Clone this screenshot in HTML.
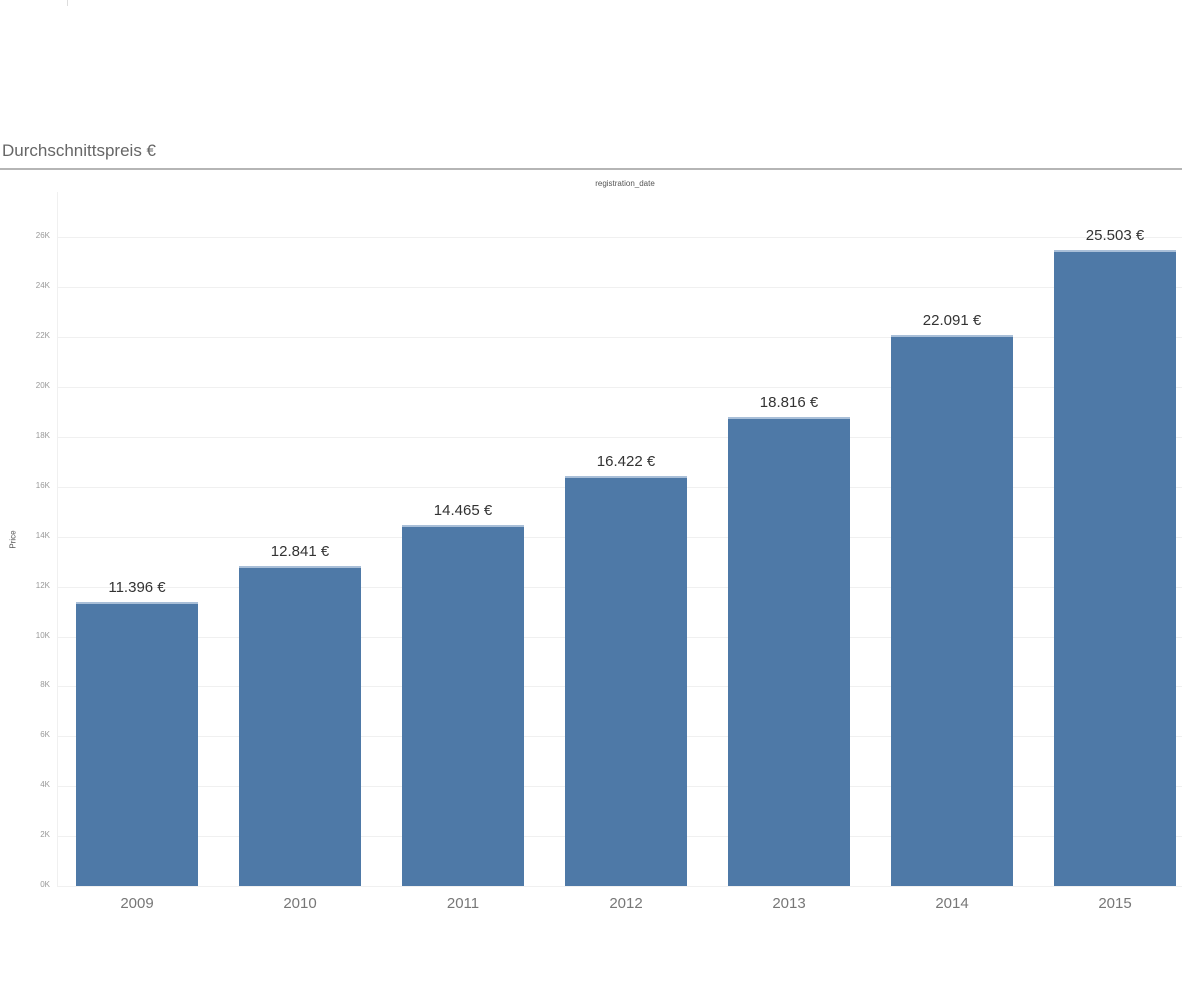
<!DOCTYPE html>
<html><head><meta charset="utf-8"><style>
body{margin:0;width:1182px;height:984px;background:#fff;font-family:"Liberation Sans",sans-serif;position:relative;overflow:hidden}
.a{position:absolute}
.g{position:absolute;left:57px;width:1125px;height:1px;background:#f0f0f0}
.t{position:absolute;left:20px;width:30px;text-align:right;font-size:8px;color:#999}
.b{position:absolute;width:122px;background:#4e79a7;border-top:2px solid #a9bfd8;box-sizing:border-box}
.v{position:absolute;width:160px;text-align:center;font-size:15px;color:#333}
.y{position:absolute;top:895px;width:120px;text-align:center;font-size:15px;color:#777}
</style></head><body>
<div class="a" style="left:67px;top:0;width:1px;height:6px;background:#ddd"></div>
<div class="a" style="left:2px;top:141px;font-size:17px;color:#666">Durchschnittspreis €</div>
<div class="a" style="left:0;top:168px;width:1182px;height:2px;background:#b5b5b5"></div>
<div class="a" style="left:525px;top:179px;width:200px;text-align:center;font-size:8px;color:#555">registration_date</div>
<div class="a" style="left:4px;top:535px;font-size:8px;color:#555;transform:rotate(-90deg)">Price</div>
<div class="a" style="left:57px;top:192px;width:1px;height:694px;background:#f0f0f0"></div>
<div id="grid"></div>
<script>
(function(){
var h='';
for(var k=0;k<=26;k+=2){var y=886-k*24.95;h+='<div class="g" style="top:'+Math.round(y)+'px"></div><div class="t" style="top:'+Math.round(y-6)+'px">'+k+'K</div>';}
var d=[11396,12841,14465,16422,18816,22091,25503],L=['11.396 €','12.841 €','14.465 €','16.422 €','18.816 €','22.091 €','25.503 €'];
for(var i=0;i<7;i++){var c=137+i*163,tp=886-d[i]/1000*24.95;
h+='<div class="b" style="left:'+(c-61)+'px;top:'+Math.round(tp)+'px;height:'+Math.round(886-tp)+'px"></div>';
h+='<div class="v" style="left:'+(c-80)+'px;top:'+Math.round(tp-23)+'px">'+L[i]+'</div>';
h+='<div class="y" style="left:'+(c-60)+'px">'+(2009+i)+'</div>';}
document.getElementById('grid').innerHTML=h;
})();
</script>
</body></html>
